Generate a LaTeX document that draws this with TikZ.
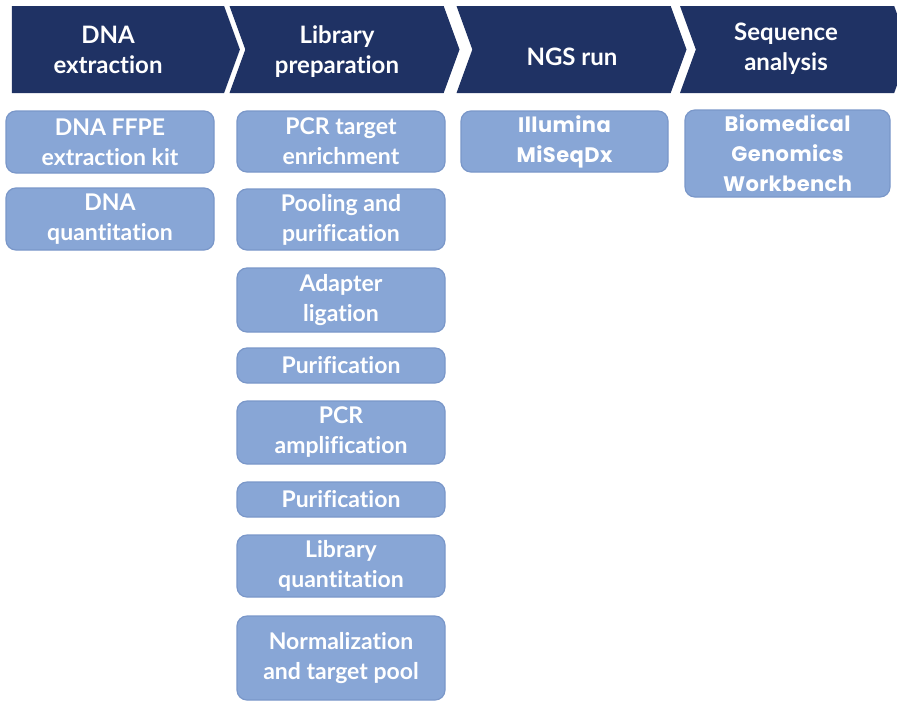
\documentclass[tikz,border=0pt]{standalone}
\usepackage{fontspec}
\setmainfont{Lato}[Ligatures=NoCommon]
\newfontfamily\geofont{Poppins}[LetterSpace=2]
\usepackage{xcolor}
\definecolor{navy}{HTML}{1F3264}
\definecolor{stepblue}{HTML}{88A6D6}
\definecolor{stepedge}{HTML}{7A97C9}
\usetikzlibrary{shapes.symbols, positioning}

\begin{document}
\begin{tikzpicture}[x=0.5pt, y=-0.5pt,
  chev/.style={signal, signal to=east, signal pointer angle=140, fill=navy,
    minimum height=43.5pt, minimum width=115pt, inner sep=0pt},
  hdtext/.style={text=white, align=center, font=\bfseries\fontsize{12}{15}\selectfont},
  task/.style={rectangle, rounded corners=5pt, fill=stepblue, draw=stepedge, line width=0.6pt,
    text=white, align=center, minimum width=104pt, inner sep=0pt,
    font=\bfseries\fontsize{11.5}{15}\selectfont},
  geo/.style={font=\geofont\bfseries\fontsize{10.5}{15}\selectfont}]
  \clip (0,0) rectangle (897,702);

  % workflow header
  \node[chev, minimum width=114pt] (hd1) at (118,49.5) {};
  \node[chev, signal from=west] (hd2) at (344.5,49.5) {};
  \node[chev, signal from=west] (hd3) at (571.5,49.5) {};
  \node[chev, signal from=west] (hd4) at (795,49.5) {};
  \node[hdtext] (hx1) at (108,50) {DNA\\extraction};
  \node[hdtext] (hx2) at (337,52) {Library\\preparation};
  \node[hdtext] (hx3) at (572,57) {NGS run};
  \node[hdtext] (hx4) at (786,49) {Sequence\\analysis};

  % DNA extraction
  \node[task, minimum height=31pt] (ffpe) at (110,142) {DNA FFPE\\extraction kit};
  \node[task, minimum height=31pt] (dnaq) at (110,219) {DNA\\quantitation};

  % library preparation
  \node[task, minimum height=30.5pt] (pcrt) at (341,141.5) {PCR target\\enrichment};
  \node[task, minimum height=30.5pt] (pool) at (341,219.5) {Pooling and\\purification};
  \node[task, minimum height=32pt] (adpt) at (341,300) {Adapter\\ligation};
  \node[task, minimum height=17.5pt] (pur1) at (341,365.5) {Purification};
  \node[task, minimum height=31.5pt] (pcra) at (341,432.5) {PCR\\amplification};
  \node[task, minimum height=17.5pt] (pur2) at (341,499.5) {Purification};
  \node[task, minimum height=31pt] (libq) at (341,566) {Library\\quantitation};
  \node[task, minimum height=42pt] (norm) at (341,658) {Normalization\\and target pool};

  % NGS run and analysis
  \node[task, geo, minimum height=30.5pt, minimum width=103.5pt] (miseq) at (564.5,141.5) {Illumina\\MiSeqDx};
  \node[task, geo, minimum height=43.5pt, minimum width=102.5pt] (bgw) at (787.5,153.5) {Biomedical\\Genomics\\Workbench};
\end{tikzpicture}
\end{document}
